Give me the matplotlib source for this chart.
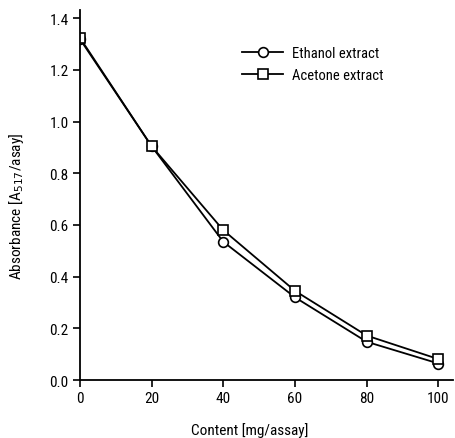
import matplotlib
matplotlib.use("Agg")
import matplotlib.pyplot as plt
from matplotlib import font_manager

names = {f.name for f in font_manager.fontManager.ttflist}
fam = ["Liberation Sans Narrow", "Roboto Condensed", "Liberation Sans", "DejaVu Sans"]
fam = [f for f in fam if f in names] + ["DejaVu Sans"]
plt.rcParams['font.family'] = fam

content = [0, 20, 40, 60, 80, 100]
ethanol = [1.32, 0.905, 0.535, 0.32, 0.148, 0.064]
acetone = [1.325, 0.905, 0.58, 0.345, 0.172, 0.081]
yticks = [0.0, 0.2, 0.4, 0.6, 0.8, 1.0, 1.2, 1.4]
xticks = [0, 20, 40, 60, 80, 100]

fig = plt.figure(figsize=(4.56, 4.39), dpi=100)
ax = fig.add_axes([0.175, 0.132, 0.818, 0.842])

style = dict(color='black', lw=1.3, markersize=7, markerfacecolor='white',
             markeredgecolor='black', markeredgewidth=1.2)
ax.plot(content, ethanol, marker='o', label='Ethanol extract', **style)
ax.plot(content, acetone, marker='s', label='Acetone extract', **style)

ax.set_xlim(0, 104)
ax.set_ylim(0, 1.43)
ax.set_xticks(xticks)
ax.set_yticks(yticks)
ax.set_yticklabels([f"{v:.1f}" for v in yticks])
for s in ['top', 'right']:
    ax.spines[s].set_visible(False)
for s in ['left', 'bottom']:
    ax.spines[s].set_linewidth(1.3)
ax.tick_params(direction='out', length=5, width=1.2, labelsize=11, pad=3)
ax.set_xlabel('Content [mg/assay]', fontsize=11)
ax.set_ylabel('Absorbance [A$_{517}$/asay]', fontsize=11)
ax.xaxis.set_label_coords(0.456, -0.113)
ax.yaxis.set_label_coords(-0.145, 0.474)

ax.legend(loc='upper left', bbox_to_anchor=(0.40, 0.94), frameon=False,
          fontsize=10.5, handlelength=2.8, handletextpad=0.6, labelspacing=0.55)

fig.savefig('out.png', dpi=100)
